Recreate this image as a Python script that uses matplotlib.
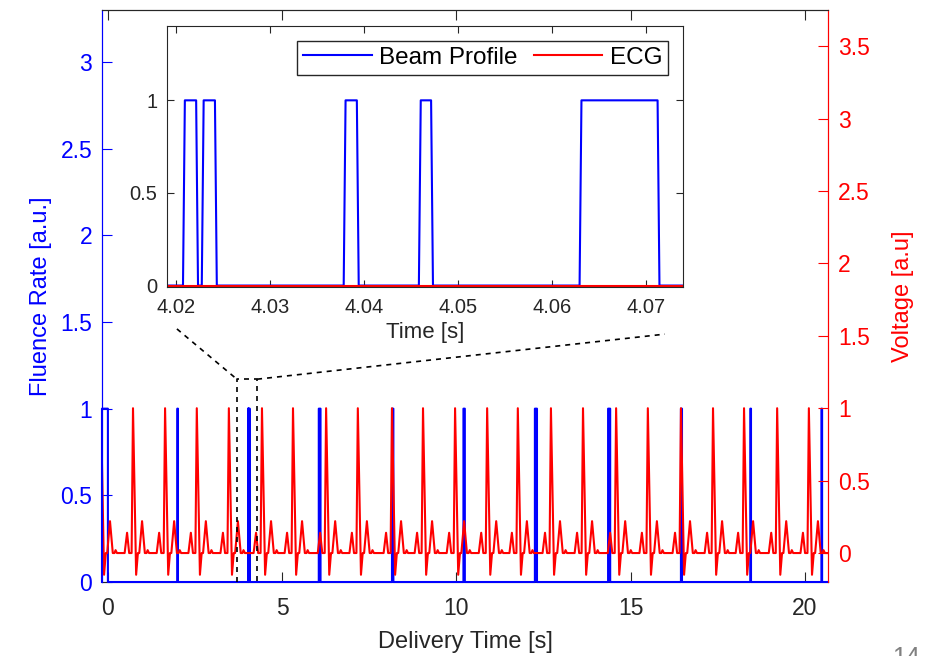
import matplotlib
matplotlib.use('Agg')
import matplotlib.pyplot as plt
import numpy as np

plt.rcParams['font.family'] = ['Liberation Sans', 'DejaVu Sans']

# ECG: times of the R peaks (s)
r_peaks = [-0.20, 0.72, 1.64, 2.55, 3.47, 4.42, 5.31, 6.26, 7.17, 8.15, 9.04,
           9.96, 10.88, 11.76, 12.71, 13.63, 14.58, 15.49, 16.44, 17.36,
           18.25, 19.20, 20.11]
# one heart beat: time relative to R peak (s) and voltage (a.u)
beat_dt = [-0.24, -0.17, -0.11, -0.04, 0.00, 0.09, 0.14, 0.18, 0.26, 0.34, 0.39, 0.42, 0.46]
beat_v = [0.0, 0.14, 0.0, 0.0, 1.0, -0.15, 0.0, 0.0, 0.22, 0.0, 0.0, 0.02, 0.0]

# beam on / off times (s)
beam_on = [-0.17, 1.99, 4.0209, 4.0229, 4.0380, 4.0460, 4.0631, 6.05, 8.15,
           10.20, 12.25, 14.35, 16.44, 18.43, 20.47]
beam_off = [0.00, 2.01, 4.0221, 4.0241, 4.0392, 4.0471, 4.0712, 6.10, 8.19,
            10.24, 12.31, 14.41, 16.47, 18.45, 20.49]
ramp = 0.0002

t_min, t_max = -0.17, 20.66
zoom_t = (3.70, 4.28)
zoom_h = 1.17

# build traces
ecg_t = []
ecg_v = []
for r in r_peaks:
    for dt, v in zip(beat_dt, beat_v):
        ecg_t.append(r + dt)
        ecg_v.append(v)
ecg_t.append(t_max + 0.1)
ecg_v.append(0.0)

beam_t = []
beam_v = []
for on, off in zip(beam_on, beam_off):
    beam_t += [on - ramp, on, off, off + ramp]
    beam_v += [0, 1, 1, 0]
beam_t[0] = t_min
beam_t.append(t_max)
beam_v.append(0)

dark = '0.15'

fig = plt.figure(figsize=(9.33, 6.56), dpi=100)
ax = fig.add_axes([0.1093, 0.1128, 0.7782, 0.872])
ax2 = ax.twinx()

ax.plot(beam_t, beam_v, color='blue', lw=1.5, clip_on=False, zorder=3)
ax2.plot(ecg_t, ecg_v, color='red', lw=1.5)

ax.set_xlim(t_min, t_max)
ax.set_ylim(0, 3.3)
ax2.set_ylim(-0.2, 3.75)
ax.set_xticks([0, 5, 10, 15, 20])
ax.set_yticks([0, 0.5, 1, 1.5, 2, 2.5, 3])
ax.set_yticklabels(['0', '0.5', '1', '1.5', '2', '2.5', '3'])
ax2.set_yticks([0, 0.5, 1, 1.5, 2, 2.5, 3, 3.5])
ax2.set_yticklabels(['0', '0.5', '1', '1.5', '2', '2.5', '3', '3.5'])

for a in (ax, ax2):
    a.spines['top'].set_color(dark)
    a.spines['bottom'].set_color(dark)
    a.spines['left'].set_color('blue')
    a.spines['right'].set_color('red')
ax2.spines['bottom'].set_visible(False)
ax.tick_params(axis='x', direction='in', top=True, length=7, colors=dark,
               labelsize=16.5, pad=11)
ax.tick_params(axis='y', direction='in', length=7, colors='blue',
               labelsize=16.5, pad=7)
ax2.tick_params(axis='y', direction='in', length=7, colors='red',
                labelsize=16.5, pad=7)

ax.set_xlabel('Delivery Time [s]', fontsize=17, color=dark, labelpad=8)
ax.set_ylabel('Fluence Rate [a.u.]', fontsize=17, color='blue', labelpad=6)
ax2.set_ylabel('Voltage [a.u]', fontsize=17, color='red', labelpad=16)

# zoom box and connector lines
zx0, zx1 = zoom_t
ax2.plot([zx0, zx0, zx1, zx1], [0, zoom_h, zoom_h, 0], transform=ax.transData,
         color='black', ls='--', lw=1.2, dashes=(3, 3))
ax2.plot([1.98, zx0], [1.46, zoom_h], transform=ax.transData,
         color='black', ls='--', lw=1.2, dashes=(3, 3))
ax2.plot([zx1, 15.98], [zoom_h, 1.43], transform=ax.transData,
         color='black', ls='--', lw=1.2, dashes=(3, 3))

# inset
ins = fig.add_axes([0.179, 0.563, 0.553, 0.397])
ins.plot(beam_t, beam_v, color='blue', lw=1.5, label='Beam Profile')
ins.plot(ecg_t, ecg_v, color='red', lw=1.5, label='ECG')
ins.set_xlim(4.019, 4.0739)
ins.set_ylim(-0.006, 1.4)
ins.set_xticks([4.02, 4.03, 4.04, 4.05, 4.06, 4.07])
ins.set_xticklabels(['4.02', '4.03', '4.04', '4.05', '4.06', '4.07'])
ins.set_yticks([0, 0.5, 1])
ins.set_yticklabels(['0', '0.5', '1'])
for s in ins.spines.values():
    s.set_color(dark)
ins.tick_params(direction='in', top=True, right=True, length=5, colors=dark,
                labelsize=14.5, pad=7)
ins.tick_params(axis='x', pad=8)
ins.set_xlabel('Time [s]', fontsize=16, color=dark, labelpad=4)
leg = ins.legend(loc='upper right', ncol=2, fontsize=17.5, frameon=True,
                 fancybox=False, framealpha=1, edgecolor=dark,
                 handlelength=2.8, handletextpad=0.3, columnspacing=0.7,
                 borderpad=0.25, borderaxespad=0.6)
leg.get_frame().set_linewidth(1.0)
for txt in leg.get_texts():
    txt.set_color('black')

fig.text(892 / 933, 1 - 646 / 656, '14', fontsize=18, color='0.5',
         ha='left', va='top')

fig.savefig('out.png', dpi=100)
